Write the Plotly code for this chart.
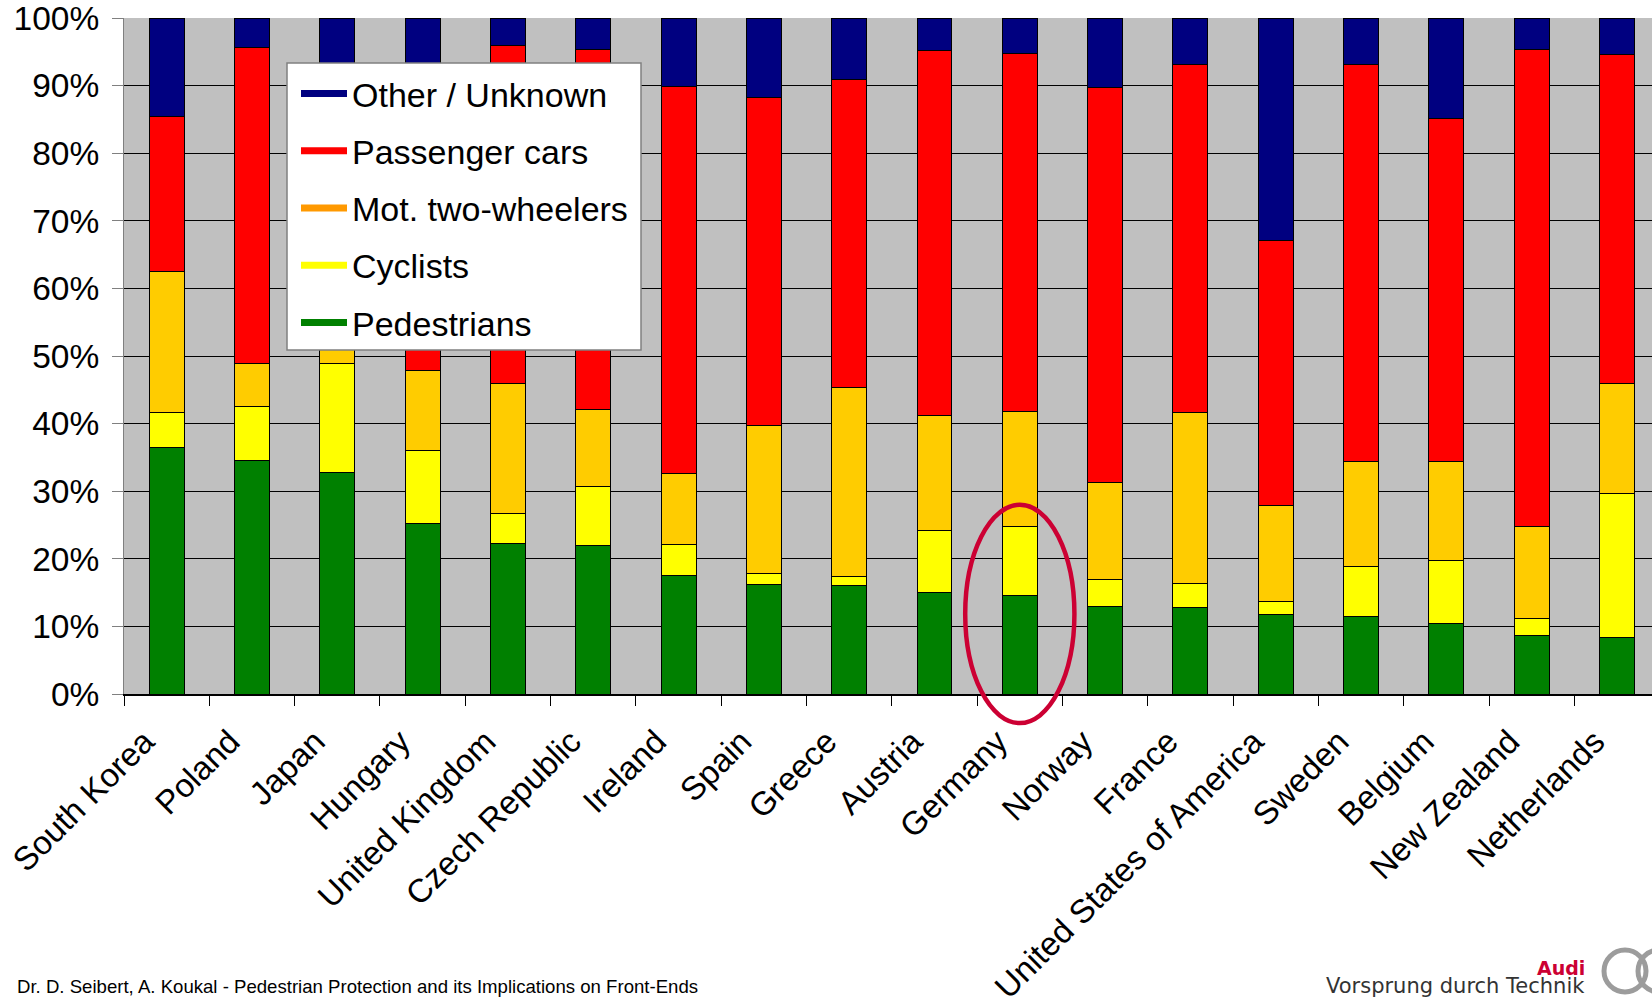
import plotly.graph_objects as go

# Share of road fatalities by type of road user, per country (percent)
countries = ["South Korea", "Poland", "Japan", "Hungary", "United Kingdom",
             "Czech Republic", "Ireland", "Spain", "Greece", "Austria",
             "Germany", "Norway", "France", "United States of America",
             "Sweden", "Belgium", "New Zealand", "Netherlands"]

pedestrians = [36.4, 34.6, 32.8, 25.2, 22.3, 22.0, 17.5, 16.2, 16.0,
               15.0, 14.6, 12.9, 12.8, 11.7, 11.4, 10.5, 8.6, 8.3]
cyclists = [5.3, 7.9, 16.1, 10.9, 4.4, 8.7, 4.6, 1.6, 1.4,
            9.2, 10.2, 4.0, 3.5, 2.0, 7.5, 9.2, 2.6, 21.3]
mot_two_wheelers = [20.8, 6.4, 14.0, 11.8, 19.3, 11.4, 10.5, 21.9, 28.0,
                    17.0, 17.0, 14.4, 25.3, 14.2, 15.5, 14.7, 13.6, 16.3]
passenger_cars = [23.0, 46.7, 24.1, 43.1, 49.9, 53.2, 57.3, 48.5, 45.5,
                  54.0, 52.9, 58.4, 51.5, 39.2, 58.7, 50.7, 70.5, 48.7]
other_unknown = [14.5, 4.4, 13.0, 9.0, 4.1, 4.7, 10.1, 11.8, 9.1,
                 4.8, 5.3, 10.3, 6.9, 32.9, 6.9, 14.9, 4.7, 5.4]

highlight = "Germany"
y_ticks = list(range(0, 101, 10))

W, H = 1652, 1006
M_L, M_R, M_T, M_B = 124, 0, 18, 312
X_RANGE = [-0.5, 17.41]
Y_RANGE = [0, 100.02]

FONT = "Liberation Sans, Arial, sans-serif"

# stacked from the bottom up
stack = [
    ("Pedestrians", pedestrians, "#008000"),
    ("Cyclists", cyclists, "#FFFF00"),
    ("Mot. two-wheelers", mot_two_wheelers, "#FFCC00"),
    ("Passenger cars", passenger_cars, "#FF0000"),
    ("Other / Unknown", other_unknown, "#000080"),
]
legend_colors = {
    "Other / Unknown": "#000080",
    "Passenger cars": "#FF0000",
    "Mot. two-wheelers": "#FF9900",
    "Cyclists": "#FFFF00",
    "Pedestrians": "#008000",
}

fig = go.Figure()
for name, vals, color in stack:
    fig.add_trace(go.Bar(
        x=countries, y=vals, name=name, showlegend=False,
        marker=dict(color=color, line=dict(color="#000000", width=1)),
    ))

# legend entries drawn as short thick lines
for i, (name, color) in enumerate(legend_colors.items()):
    fig.add_trace(go.Scatter(
        x=[None], y=[None], mode="lines", name=name, legendgroup=f"g{i}",
        line=dict(color=color, width=7), showlegend=True,
    ))

plot_w = W - M_L - M_R
plot_h = H - M_T - M_B


def px_to_paper_x(px):
    return (px - M_L) / plot_w


def px_to_paper_y(py):
    return (H - M_B - py) / plot_h


def data_to_paper_x(v):
    return (v - X_RANGE[0]) / (X_RANGE[1] - X_RANGE[0])


def data_to_paper_y(v):
    return (v - Y_RANGE[0]) / (Y_RANGE[1] - Y_RANGE[0])


# white legend panel with grey frame
fig.add_shape(
    type="rect", xref="paper", yref="paper",
    x0=px_to_paper_x(287), x1=px_to_paper_x(641),
    y0=px_to_paper_y(350), y1=px_to_paper_y(63),
    fillcolor="#FFFFFF", line=dict(color="#808080", width=1.5), layer="above",
)

# ellipse around the highlighted country
hi = countries.index(highlight)
fig.add_shape(
    type="circle", xref="paper", yref="paper",
    x0=data_to_paper_x(hi - 0.64), x1=data_to_paper_x(hi + 0.64),
    y0=data_to_paper_y(-4.3), y1=data_to_paper_y(28.0),
    line=dict(color="#CC0033", width=4.5), layer="above",
)

# Audi rings in the corner
for cx in (1625, 1659):
    fig.add_shape(
        type="circle", xref="paper", yref="paper",
        x0=px_to_paper_x(cx - 21), x1=px_to_paper_x(cx + 21),
        y0=px_to_paper_y(971 + 21), y1=px_to_paper_y(971 - 21),
        line=dict(color="#9C9C9C", width=5),
    )

fig.add_annotation(
    text="Dr. D. Seibert, A. Koukal - Pedestrian Protection and its Implications on Front-Ends",
    xref="paper", yref="paper", x=px_to_paper_x(15), y=px_to_paper_y(986),
    xanchor="left", yanchor="middle", showarrow=False,
    font=dict(family=FONT, size=18.6, color="#000000"),
)
fig.add_annotation(
    text="<b>Audi</b>", xref="paper", yref="paper",
    x=px_to_paper_x(1587), y=px_to_paper_y(968),
    xanchor="right", yanchor="middle", showarrow=False,
    font=dict(family="DejaVu Sans, sans-serif", size=19, color="#CC0033"),
)
fig.add_annotation(
    text="Vorsprung durch Technik", xref="paper", yref="paper",
    x=px_to_paper_x(1587), y=px_to_paper_y(986),
    xanchor="right", yanchor="middle", showarrow=False,
    font=dict(family="DejaVu Sans, sans-serif", size=21, color="#333333"),
)

fig.update_layout(
    width=W, height=H,
    margin=dict(l=M_L, r=M_R, t=M_T, b=M_B, pad=0),
    paper_bgcolor="#FFFFFF", plot_bgcolor="#C0C0C0",
    barmode="stack", bargap=0.59,
    font=dict(family=FONT, size=34, color="#000000"),
    legend=dict(
        x=px_to_paper_x(296), y=px_to_paper_y(65), xanchor="left", yanchor="top",
        bgcolor="rgba(0,0,0,0)", borderwidth=0,
        font=dict(family=FONT, size=34, color="#000000"),
        traceorder="grouped", tracegroupgap=10, itemwidth=46,
    ),
    xaxis=dict(
        range=X_RANGE, type="category", tickangle=-45,
        ticks="outside", tickson="boundaries", ticklen=10, tickcolor="#000000",
        showline=True, linecolor="#000000", linewidth=2,
        showgrid=False, automargin=False,
        ticklabelshift=-22, ticklabelstandoff=13,
        tickfont=dict(family=FONT, size=33, color="#000000"),
    ),
    yaxis=dict(
        range=Y_RANGE, tickvals=y_ticks, ticktext=[f"{v}%" for v in y_ticks],
        ticks="outside", ticklen=11, tickcolor="#808080",
        showline=True, linecolor="#808080", linewidth=1,
        showgrid=True, gridcolor="#000000", gridwidth=1,
        zeroline=False, automargin=False, ticklabelstandoff=6,
        ticklabeloverflow="allow",
        tickfont=dict(family=FONT, size=33.5, color="#000000"),
    ),
)

fig.write_html("out.html")
